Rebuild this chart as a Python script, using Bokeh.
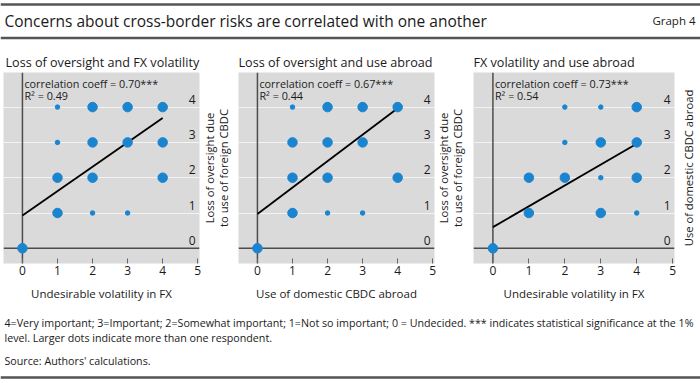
import math
from bokeh.plotting import figure
from bokeh.layouts import column, row
from bokeh.models import Range1d, FixedTicker, Span, Label
from bokeh.core.properties import value
from bokeh.embed import file_html
from bokeh.resources import INLINE

# ---------------- data ----------------
title_text = "Concerns about cross-border risks are correlated with one another"
graph_no = "Graph 4"
panel_titles = ["Loss of oversight and FX volatility",
                "Loss of oversight and use abroad",
                "FX volatility and use abroad"]
x_titles = ["Undesirable volatility in FX",
            "Use of domestic CBDC abroad",
            "Undesirable volatility in FX"]
y_titles = ["Loss of oversight due\nto use of foreign CBDC",
            "Loss of oversight due\nto use of foreign CBDC",
            "Use of domestic CBDC abroad"]
corr = ["0.70", "0.67", "0.73"]
r2 = ["0.49", "0.44", "0.54"]
intercepts = [0.93, 0.97, 0.60]
slopes = [0.69, 0.75, 0.59]
x_ticks = [0, 1, 2, 3, 4, 5]
y_ticks = [0, 1, 2, 3, 4]

# 1 = larger dot (more than one respondent), 0 = single respondent
p1_x = [0, 1, 2, 3, 4, 1, 2, 3, 4, 1, 2, 4, 1, 2, 3]
p1_y = [0, 4, 4, 4, 4, 3, 3, 3, 3, 2, 2, 2, 1, 1, 1]
p1_many = [1, 0, 1, 1, 1, 0, 1, 1, 1, 1, 1, 1, 1, 0, 0]

p2_x = [0, 1, 2, 3, 4, 1, 2, 3, 1, 2, 4, 1, 2, 3]
p2_y = [0, 4, 4, 4, 4, 3, 3, 3, 2, 2, 2, 1, 1, 1]
p2_many = [1, 0, 1, 1, 1, 1, 1, 1, 1, 1, 1, 1, 0, 0]

p3_x = [0, 2, 3, 4, 2, 3, 4, 1, 2, 3, 4, 1, 3, 4]
p3_y = [0, 4, 4, 4, 3, 3, 3, 2, 2, 2, 2, 1, 1, 1]
p3_many = [1, 0, 0, 1, 0, 1, 1, 1, 1, 0, 1, 1, 1, 0]

footnote_lines = [
    "4=Very important; 3=Important; 2=Somewhat important; 1=Not so important; 0 = Undecided. *** indicates statistical significance at the 1%",
    "level. Larger dots indicate more than one respondent.",
]
source_text = "Source: Authors' calculations."

# ---------------- style ----------------
FONT = "Open Sans"
TXT = "#1a1a1a"
BG = "#dadada"
GRID = "#f3f3f3"
AXC = "#4d4d4d"
BLUE = "#1b84cf"
W = 700
PH = 265          # panel height
TOP, BOT = 32, 42  # frame borders inside a panel


def make_panel(i, xs, ys, many, width, left_border, right_border, title_offset):
    xr = Range1d(-0.54, 5.05)
    yr = Range1d(-0.43, 4.98)
    p = figure(width=width, height=PH, x_range=xr, y_range=yr, title=panel_titles[i],
               output_backend="svg", toolbar_location=None, y_axis_location=None,
               min_border_left=left_border, min_border_right=right_border,
               min_border_top=TOP, min_border_bottom=BOT)
    p.background_fill_color = BG
    p.border_fill_color = "white"
    p.outline_line_color = None
    p.title.text_font = FONT
    p.title.text_font_size = "12.6px"
    p.title.text_font_style = "normal"
    p.title.text_color = TXT
    p.title.offset = title_offset
    p.title.standoff = 3

    p.xgrid.visible = False
    p.ygrid.ticker = FixedTicker(ticks=y_ticks[1:])
    p.ygrid.grid_line_color = GRID
    p.ygrid.grid_line_width = 1

    ax = p.xaxis[0]
    ax.ticker = FixedTicker(ticks=x_ticks)
    ax.axis_line_color = None
    ax.major_tick_in = 5
    ax.major_tick_out = 0
    ax.major_tick_line_color = "#666666"
    ax.minor_tick_line_color = None
    ax.major_label_text_font = FONT
    ax.major_label_text_font_size = "12px"
    ax.major_label_text_color = TXT
    ax.major_label_standoff = 2
    ax.axis_label = x_titles[i]
    ax.axis_label_text_font = FONT
    ax.axis_label_text_font_size = "11.5px"
    ax.axis_label_text_font_style = "normal"
    ax.axis_label_text_color = TXT
    ax.axis_label_standoff = 8

    # zero lines
    p.add_layout(Span(location=0, dimension="height", line_color=AXC, line_width=1.5, level="underlay"))
    p.add_layout(Span(location=0, dimension="width", line_color=AXC, line_width=1.5, level="underlay"))

    # y tick labels drawn inside the frame, right side, above grid lines
    p.text(x=[xr.end] * len(y_ticks), y=y_ticks, text=[str(t) for t in y_ticks],
           text_align="right", text_baseline="middle", x_offset=-4, y_offset=-8,
           text_font=value(FONT), text_font_size=value("12px"), text_color=TXT)

    # regression line
    lx = [min(xs), max(xs)]
    ly = [intercepts[i] + slopes[i] * v for v in lx]
    p.line(x=lx, y=ly, line_color="black", line_width=1.8)

    # dots
    sizes = [9.5 if m else 4.5 for m in many]
    p.scatter(x=xs, y=ys, size=sizes, fill_color=BLUE, line_color=BLUE)

    # statistics
    p.text(x=[0, 0], y=[yr.end, yr.end],
           text=[f"correlation coeff = {corr[i]}***", f"R\u00b2 = {r2[i]}"],
           x_offset=2, y_offset=[11, 22.5], text_align="left", text_baseline="middle",
           text_font=value(FONT), text_font_size=value("10.8px"), text_color=TXT)
    return p


def make_strip(i, width, yr, pos):
    s = figure(width=width, height=PH, x_range=Range1d(0, width), y_range=yr,
               output_backend="svg", toolbar_location=None, title=None,
               x_axis_location=None, y_axis_location=None,
               min_border_left=0, min_border_right=0, min_border_top=TOP, min_border_bottom=BOT)
    s.outline_line_color = None
    s.xgrid.visible = False
    s.ygrid.visible = False
    s.text(x=[pos], y=[(yr.start + yr.end) / 2], text=[y_titles[i]], angle=math.pi / 2,
           text_align="center", text_baseline="middle", text_line_height=0.9,
           text_font=value(FONT), text_font_size=value("11.2px"), text_color=TXT)
    return s


p1 = make_panel(0, p1_x, p1_y, p1_many, 201, 3, 2, 2)
p2 = make_panel(1, p2_x, p2_y, p2_many, 198, 0, 2, 0)
p3 = make_panel(2, p3_x, p3_y, p3_many, 204, 0, 3, 0)
s1 = make_strip(0, 37, p1.y_range, 15)
s2 = make_strip(1, 37, p2.y_range, 14)
s3 = make_strip(2, 23, p3.y_range, 11)

# header
hh = 40
head = figure(width=W, height=hh, x_range=Range1d(0, W), y_range=Range1d(hh, 0),
              output_backend="svg", toolbar_location=None, title=None,
              x_axis_location=None, y_axis_location=None, min_border=0)
head.outline_line_color = None
head.xgrid.visible = False
head.ygrid.visible = False
head.add_layout(Span(location=4, dimension="width", line_color="#555555", line_width=2.5))
head.add_layout(Span(location=37.5, dimension="width", line_color="#555555", line_width=2.5))
head.add_layout(Label(x=4, y=20, text=title_text, text_font=FONT, text_font_size="15.5px",
                      text_baseline="middle", text_align="left", text_color=TXT))
head.add_layout(Label(x=W - 5, y=20, text=graph_no, text_font=FONT, text_font_size="11.5px",
                      text_baseline="middle", text_align="right", text_color=TXT))

# footer
fh = 75
foot = figure(width=W, height=fh, x_range=Range1d(0, W), y_range=Range1d(fh, 0),
              output_backend="svg", toolbar_location=None, title=None,
              x_axis_location=None, y_axis_location=None, min_border=0)
foot.outline_line_color = None
foot.xgrid.visible = False
foot.ygrid.visible = False
foot.add_layout(Label(x=4, y=17, text=footnote_lines[0], text_font=FONT, text_font_size="10.7px",
                      text_baseline="middle", text_color=TXT))
foot.add_layout(Label(x=4, y=32, text=footnote_lines[1], text_font=FONT, text_font_size="10.7px",
                      text_baseline="middle", text_color=TXT))
foot.add_layout(Label(x=4, y=55, text=source_text, text_font=FONT, text_font_size="10.7px",
                      text_baseline="middle", text_color=TXT))
foot.add_layout(Span(location=72, dimension="width", line_color="#555555", line_width=2.5))

layout = column(head, row(p1, s1, p2, s2, p3, s3), foot)
open("out.html", "w").write(file_html(layout, INLINE))
